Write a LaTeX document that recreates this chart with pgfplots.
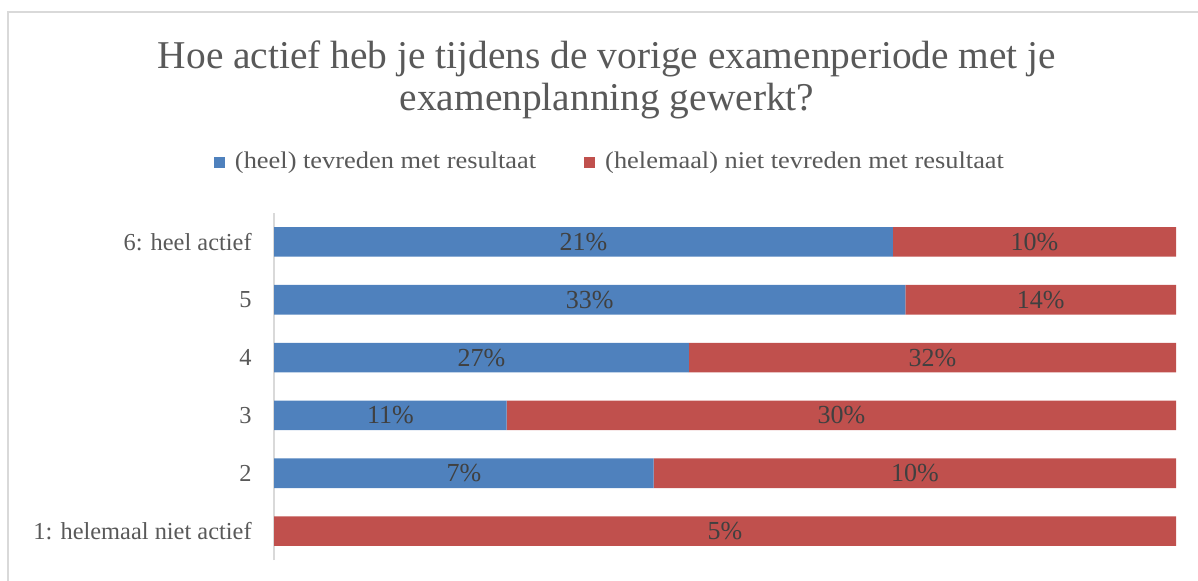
\documentclass[border=0pt]{standalone}
\usepackage{fontspec}
\setmainfont{Liberation Serif}
\newfontfamily\legfont[FakeStretch=1.1]{Liberation Serif}
\usepackage{pgfplots}
\usepackage{pgfplotstable}
\pgfplotsset{compat=1.18}
\definecolor{cblue}{HTML}{4F81BD}
\definecolor{cred}{HTML}{C0504D}
\definecolor{tgray}{HTML}{595959}
\definecolor{lgray}{HTML}{404040}
\definecolor{bgray}{HTML}{D9D9D9}
% bl, rd: labelled percentages; bs, rs: bar shares
\pgfplotstableread{
cat bl rd bs rs
1 0 5 0 100
2 7 10 42.1 57.9
3 11 30 25.8 74.2
4 27 32 46.0 54.0
5 33 14 70.0 30.0
6 21 10 68.6 31.4
}\data
\begin{document}
\begin{tikzpicture}
\useasboundingbox (0,0) rectangle (599pt,-290pt);
\draw[bgray, line width=1pt] (4pt,-300pt) -- (4pt,-6pt) -- (610pt,-6pt);
\node[align=center, font=\fontsize{19.7}{21}\selectfont, text=tgray, inner sep=0pt] at (303.5pt,-40pt)
  {Hoe actief heb je tijdens de vorige examenperiode met je\\examenplanning gewerkt?};
\begin{axis}[
  at={(137pt,-280pt)}, anchor=south west,
  scale only axis, width=451pt, height=173.5pt,
  xbar stacked, bar width=14.8pt,
  xmin=0, xmax=100, ymin=0.5, ymax=6.5,
  xtick=\empty,
  ytick={1,2,3,4,5,6},
  yticklabels={{\textrm{1: helemaal niet actief}},{\textrm{2}},{\textrm{3}},{\textrm{4}},{\textrm{5}},{\textrm{6: heel actief}}},
  yticklabel style={font=\fontsize{12.2}{14}\selectfont, text=tgray, inner sep=0pt, xshift=-11pt},
  major tick length=0pt,
  axis x line=none, axis y line*=left,
  y axis line style={draw=bgray, line width=1pt, -},
  legend columns=2,
  legend style={at={(0.3736,1.147)}, anchor=center, draw=none, fill=none,
    font=\legfont\fontsize{12}{14}\selectfont, text=tgray,
    /tikz/every even column/.append style={column sep=22pt}},
  legend image code/.code={\fill[#1] (0pt,-2.75pt) rectangle (5.5pt,2.75pt); \path (8.5pt,0pt);},
]
\addplot[fill=cblue, draw=none] table[y=cat, x=bs] {\data};
\addplot[fill=cred, draw=none] table[y=cat, x=rs] {\data};
\legend{(heel) tevreden met resultaat,(helemaal) niet tevreden met resultaat}
\end{axis}
\begin{axis}[
  at={(137pt,-280pt)}, anchor=south west,
  scale only axis, width=451pt, height=173.5pt,
  xmin=0, xmax=100, ymin=0.5, ymax=6.5,
  hide axis,
  nodes near coords={\ifnum\pgfplotspointmeta=0 \else\pgfplotspointmeta\%\fi},
  nodes near coords style={anchor=center, font=\fontsize{13}{15}\selectfont, text=lgray, inner sep=0pt},
]
\addplot[draw=none, mark=none, point meta=explicit symbolic]
  table[y=cat, meta=bl, x expr={0.5*\thisrow{bs}}] {\data};
\addplot[draw=none, mark=none, point meta=explicit symbolic]
  table[y=cat, meta=rd, x expr={\thisrow{bs}+0.5*\thisrow{rs}}] {\data};
\end{axis}
\end{tikzpicture}
\end{document}
